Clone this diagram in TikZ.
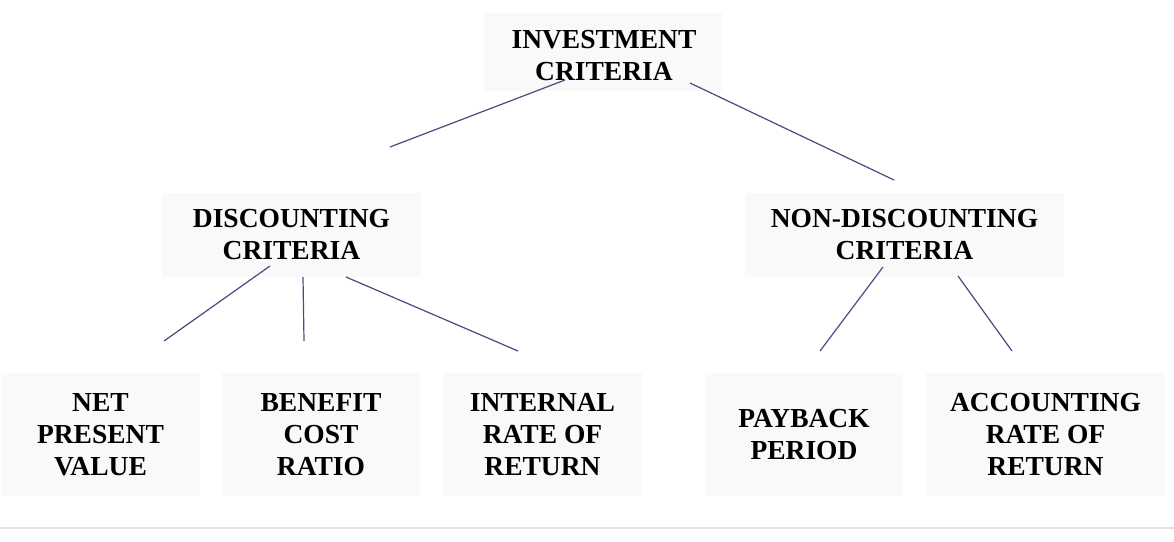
\documentclass[tikz,border=0pt]{standalone}
\usepackage{fontspec}
\setmainfont{Liberation Serif}
\definecolor{boxfill}{HTML}{F9F9F9}
\definecolor{linkcol}{HTML}{4A4A80}
\definecolor{rulecol}{HTML}{E2E2E2}
\tikzset{
  critfont/.style={font=\fontsize{27.5}{32}\selectfont\bfseries},
  critbox/.style={fill=boxfill, draw=none, inner sep=0pt, align=center, critfont},
  link/.style={draw=linkcol, line width=1.2pt}
}
\begin{document}
\begin{tikzpicture}[x=1pt,y=-1pt]
\useasboundingbox (0,0) rectangle (1174,541);
\fill[white] (0,0) rectangle (1174,541);
% boxes
\node[critbox, minimum width=238pt, minimum height=78pt] (inv) at (603,52) {};
\node[critfont, align=center, inner sep=0pt] (invtext) at (604,56) {INVESTMENT\\CRITERIA};
\node[critbox, minimum width=259pt, minimum height=84pt] (disc) at (291.5,235) {DISCOUNTING\\CRITERIA};
\node[critbox, minimum width=319pt, minimum height=84pt] (nondisc) at (904.5,235) {NON-DISCOUNTING\\CRITERIA};
\node[critbox, minimum width=199pt, minimum height=123pt] (npv) at (100.5,434.5) {NET\\PRESENT\\VALUE};
\node[critbox, minimum width=198pt, minimum height=123pt] (bcr) at (321,434.5) {BENEFIT\\COST\\RATIO};
\node[critbox, minimum width=199pt, minimum height=123pt] (irr) at (542.5,434.5) {INTERNAL\\RATE OF\\RETURN};
\node[critbox, minimum width=198pt, minimum height=123pt] (pbp) at (804,434.5) {PAYBACK\\PERIOD};
\node[critbox, minimum width=239pt, minimum height=123pt] (arr) at (1045.5,434.5) {ACCOUNTING\\RATE OF\\RETURN};
% connector end points
\coordinate (invA) at (565,80);
\coordinate (invB) at (690,83);
\coordinate (discTop) at (390,147);
\coordinate (nondiscTop) at (894,180);
\coordinate (discA) at (270,266);
\coordinate (discB) at (303,277);
\coordinate (discC) at (346,277);
\coordinate (npvTop) at (164,341);
\coordinate (bcrTop) at (304,341);
\coordinate (irrTop) at (518,351);
\coordinate (nondiscA) at (883,267);
\coordinate (nondiscB) at (958,276);
\coordinate (pbpTop) at (820,351);
\coordinate (arrTop) at (1012,351);
% connectors
\draw[link] (invA) -- (discTop);
\draw[link] (invB) -- (nondiscTop);
\draw[link] (discA) -- (npvTop);
\draw[link] (discB) -- (bcrTop);
\draw[link] (discC) -- (irrTop);
\draw[link] (nondiscA) -- (pbpTop);
\draw[link] (nondiscB) -- (arrTop);
% bottom rule
\draw[rulecol, line width=2pt] (0,528) -- (1174,528);
\end{tikzpicture}
\end{document}
